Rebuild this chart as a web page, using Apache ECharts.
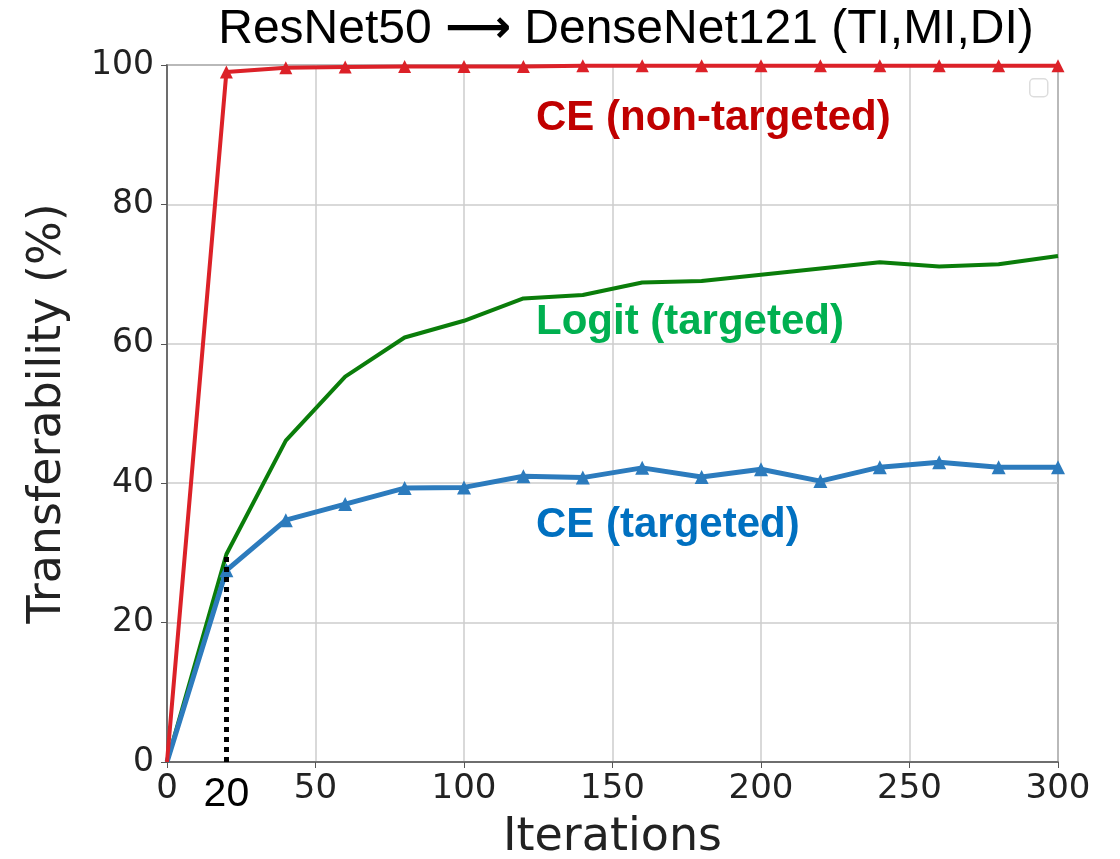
<!DOCTYPE html>
<html>
<head>
<meta charset="utf-8">
<title>ResNet50 -> DenseNet121</title>
<script src="https://cdn.jsdelivr.net/npm/echarts@6/dist/echarts.min.js"></script>
<style>
  html, body { margin: 0; padding: 0; background: #fff; }
  #main { width: 1120px; height: 859px; }
</style>
</head>
<body>
<div id="main"></div>
<script>
// iterations on the x axis (every 20)
const iterations = [0, 20, 40, 60, 80, 100, 120, 140, 160, 180, 200, 220, 240, 260, 280, 300];

// CE (non-targeted)
const ceNonTargeted = [0, 99.0, 99.6, 99.7, 99.8, 99.8, 99.8, 99.9, 99.9, 99.9, 99.9, 99.9, 99.9, 99.9, 99.9, 99.9];
// Logit (targeted)
const logitTargeted = [0, 29.8, 46.1, 55.3, 60.9, 63.3, 66.5, 67.0, 68.8, 69.0, 69.9, 70.8, 71.7, 71.1, 71.4, 72.6];
// CE (targeted)
const ceTargeted = [0, 27.5, 34.7, 37.0, 39.3, 39.4, 41.0, 40.8, 42.2, 40.9, 42.0, 40.3, 42.3, 43.0, 42.3, 42.3];

// dotted marker line at iteration 20
const markIter = 20;
const markTop = 29.5;

const xTicks = [0, 50, 100, 150, 200, 250, 300];
const yTicks = [0, 20, 40, 60, 80, 100];

const titleParts = ['ResNet50', '\u27F6', 'DenseNet121 (TI,MI,DI)'];
const seriesNames = ['CE (non-targeted)', 'Logit (targeted)', 'CE (targeted)'];

function pairs(ys, withMarker) {
  // first point (0,0) has no marker in the original
  return iterations.map((x, i) => ({
    value: [x, ys[i]],
    symbol: (withMarker && i > 0) ? 'triangle' : 'none'
  }));
}

const myChart = echarts.init(document.getElementById('main'), null, { renderer: 'canvas' });

const option = {
  backgroundColor: '#fff',
  animation: false,
  title: {
    text: `{a|${titleParts[0]} }{b|${titleParts[1]}}{a| ${titleParts[2]}}`,
    left: 621,
    textAlign: 'center',
    top: 1,
    textStyle: {
      fontWeight: 'normal',
      rich: {
        a: { fontFamily: 'Liberation Sans', fontWeight: 'normal', fontSize: 48, color: '#000' },
        b: { fontFamily: 'DejaVu Sans', fontWeight: 'bold', fontSize: 46, color: '#000' }
      }
    }
  },
  grid: {
    left: 167,
    right: 62,
    top: 65,
    bottom: 97,
    containLabel: false,
    outerBoundsMode: 'none',
    show: true,
    borderColor: '#555',
    borderWidth: 1.5
  },
  xAxis: {
    type: 'value',
    min: xTicks[0],
    max: xTicks[xTicks.length - 1],
    interval: 50,
    name: 'Iterations',
    nameLocation: 'middle',
    nameGap: 53,
    nameTextStyle: { fontFamily: 'DejaVu Sans', fontSize: 46, color: '#222' },
    axisLine: { show: true, onZero: false, lineStyle: { color: '#555', width: 1.5 } },
    axisTick: { show: true, length: 6, lineStyle: { color: '#555' } },
    axisLabel: { fontFamily: 'DejaVu Sans', fontSize: 34, color: '#222', margin: 10 },
    splitLine: { show: true, lineStyle: { color: '#ccc', width: 1.5 } }
  },
  yAxis: {
    type: 'value',
    min: yTicks[0],
    max: yTicks[yTicks.length - 1],
    interval: 20,
    name: 'Transferability (%)',
    nameLocation: 'middle',
    nameGap: 96,
    nameTextStyle: { fontFamily: 'DejaVu Sans', fontSize: 46, color: '#222' },
    axisLine: { show: true, lineStyle: { color: '#555', width: 1.5 } },
    axisTick: { show: true, length: 6, lineStyle: { color: '#555' } },
    axisLabel: { fontFamily: 'DejaVu Sans', fontSize: 33, color: '#222', margin: 13 },
    splitLine: { show: true, lineStyle: { color: '#ccc', width: 1.5 } }
  },
  series: [
    {
      name: seriesNames[1],
      type: 'line',
      data: pairs(logitTargeted, false),
      lineStyle: { color: '#0a7d0a', width: 4 },
      itemStyle: { color: '#0a7d0a' },
      z: 3
    },
    {
      name: seriesNames[2],
      type: 'line',
      data: pairs(ceTargeted, true),
      symbolSize: 14,
      lineStyle: { color: '#2c7bbd', width: 5 },
      itemStyle: { color: '#2c7bbd' },
      z: 4,
      markLine: {
        silent: true,
        symbol: ['none', 'none'],
        lineStyle: { color: '#000', type: [5, 5], width: 5 },
        label: {
          show: true,
          position: 'start',
          formatter: String(markIter),
          fontFamily: 'Liberation Sans',
          fontSize: 41,
          color: '#000',
          distance: 12
        },
        data: [[{ coord: [markIter, 0] }, { coord: [markIter, markTop] }]]
      }
    },
    {
      name: seriesNames[0],
      type: 'line',
      data: pairs(ceNonTargeted, true),
      symbolSize: 13,
      lineStyle: { color: '#dc2128', width: 4 },
      itemStyle: { color: '#dc2128' },
      z: 5
    }
  ],
  graphic: [
    // series annotations in the plot
    {
      type: 'text', x: 536, y: 118, z: 10,
      style: { text: seriesNames[0], fontFamily: 'Liberation Sans', fontWeight: 'bold', fontSize: 42, fill: '#c00000', verticalAlign: 'middle' }
    },
    {
      type: 'text', x: 536, y: 322, z: 10,
      style: { text: seriesNames[1], fontFamily: 'Liberation Sans', fontWeight: 'bold', fontSize: 42, fill: '#00b050', verticalAlign: 'middle' }
    },
    {
      type: 'text', x: 536, y: 525, z: 10,
      style: { text: seriesNames[2], fontFamily: 'Liberation Sans', fontWeight: 'bold', fontSize: 42, fill: '#0070c0', verticalAlign: 'middle' }
    },
    // empty legend box (top right)
    {
      type: 'rect', left: 1029, top: 78, z: 10,
      shape: { width: 18, height: 18, r: 4 },
      style: { fill: '#fff', stroke: '#ddd', lineWidth: 1.5 }
    }
  ]
};

myChart.setOption(option);
</script>
</body>
</html>
